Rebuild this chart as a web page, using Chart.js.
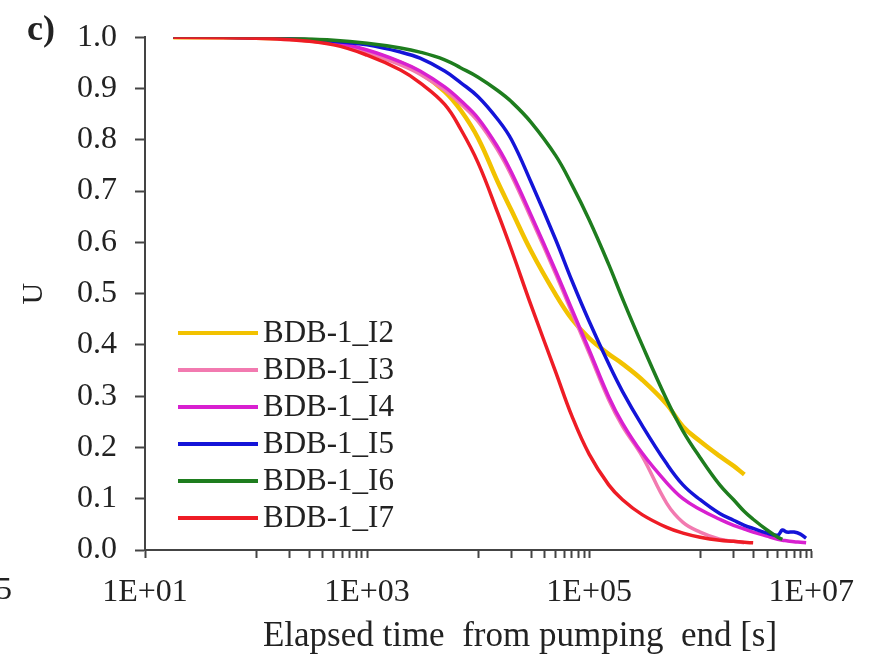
<!DOCTYPE html>
<html>
<head>
<meta charset="utf-8">
<script src="https://cdn.jsdelivr.net/npm/chart.js@4.4.1/dist/chart.umd.min.js"></script>
<style>
  html, body { margin: 0; padding: 0; background: #fff; }
  canvas { display: block; }
</style>
</head>
<body>
<canvas id="chart" width="869" height="668"></canvas>
<script>
// elapsed time since end of pumping [s]
const timeS = [18, 50, 100, 200, 500, 1000, 2000, 3000, 5000, 7000, 1e4, 1.5e4, 2e4, 3e4, 5e4, 7e4,
  1e5, 1.5e5, 2e5, 3e5, 5e5, 7e5, 1e6, 1.5e6, 2e6, 2.5e6, 3e6, 4e6, 5e6, 5.5e6, 6e6, 7e6, 8e6, 9e6];

// normalised drawdown U for each well (null = no data)
const uI2 = [1.0, 1.0, 0.999, 0.997, 0.988, 0.973, 0.95, 0.931, 0.894, 0.857, 0.803, 0.718, 0.662, 0.583, 0.498, 0.45,
  0.413, 0.382, 0.363, 0.332, 0.284, 0.241, 0.212, 0.183, 0.164, 0.147, null, null, null, null, null, null, null, null];
const uI3 = [1.0, 1.0, 0.999, 0.996, 0.987, 0.97, 0.946, 0.928, 0.897, 0.87, 0.836, 0.78, 0.73, 0.647, 0.538, 0.463,
  0.384, 0.293, 0.241, 0.183, 0.091, 0.054, 0.035, 0.021, 0.017, 0.014, null, null, null, null, null, null, null, null];
const uI4 = [1.0, 1.0, 0.999, 0.997, 0.99, 0.975, 0.952, 0.934, 0.903, 0.876, 0.842, 0.786, 0.736, 0.653, 0.544, 0.469,
  0.39, 0.299, 0.247, 0.189, 0.131, 0.1, 0.079, 0.06, 0.048, 0.041, 0.035, 0.027, 0.021, 0.019, 0.018, 0.016, 0.015, 0.014];
const uI5 = [1.0, 1.0, 0.999, 0.997, 0.992, 0.985, 0.971, 0.959, 0.934, 0.911, 0.884, 0.84, 0.8, 0.717, 0.605, 0.525,
  0.446, 0.363, 0.309, 0.243, 0.168, 0.127, 0.098, 0.071, 0.058, 0.048, 0.042, 0.033, 0.029, 0.039, 0.035, 0.035, 0.031, 0.023];
const uI6 = [1.0, 1.0, 0.999, 0.998, 0.994, 0.988, 0.979, 0.971, 0.956, 0.94, 0.922, 0.896, 0.874, 0.834, 0.769, 0.712,
  0.644, 0.557, 0.49, 0.4, 0.293, 0.232, 0.18, 0.127, 0.098, 0.075, 0.06, 0.039, 0.025, 0.021, null, null, null, null];
const uI7 = [1.0, 0.999, 0.998, 0.995, 0.985, 0.965, 0.936, 0.911, 0.869, 0.82, 0.755, 0.658, 0.585, 0.477, 0.347, 0.261,
  0.187, 0.127, 0.098, 0.069, 0.044, 0.033, 0.025, 0.019, 0.017, 0.015, 0.014, null, null, null, null, null, null, null];

const seriesNames = ['BDB-1_I2', 'BDB-1_I3', 'BDB-1_I4', 'BDB-1_I5', 'BDB-1_I6', 'BDB-1_I7'];
const seriesValues = [uI2, uI3, uI4, uI5, uI6, uI7];
const seriesColors = ['#F2C200', '#F27AB0', '#D820D0', '#1414D8', '#1E7D1E', '#EE1C25'];

// x axis: labelled decades and the minor tick marks between them
const xMajorTicks = [10, 1e3, 1e5, 1e7];
const xMinorTicks = [100, 200, 300, 400, 500, 600, 700, 800, 900,
  1e4, 2e4, 3e4, 4e4, 5e4, 6e4, 7e4, 8e4, 9e4,
  1e6, 2e6, 3e6, 4e6, 5e6, 6e6, 7e6, 8e6, 9e6];

const SERIF = '"Liberation Serif", "Times New Roman", serif';
const AXIS_COLOR = '#444';

function toPoints(values) {
  return timeS.map((t, i) => ({ x: t, y: values[i] })).filter(p => p.y !== null);
}

const datasets = seriesNames.map((name, i) => ({
  label: name,
  data: toPoints(seriesValues[i]),
  borderColor: seriesColors[i],
  backgroundColor: seriesColors[i],
  borderWidth: i === 0 ? 4.5 : 3.5,
  pointRadius: 0,
  tension: 0.4,
  fill: false,
  order: name === 'BDB-1_I7' ? 0 : 6 - i
}));

// white background, panel letter, cut-off neighbour label and x title
const textPlugin = {
  id: 'panelText',
  beforeDraw(chart) {
    const ctx = chart.ctx;
    ctx.save();
    ctx.fillStyle = '#fff';
    ctx.fillRect(0, 0, chart.width, chart.height);
    ctx.restore();
  },
  afterDraw(chart) {
    const ctx = chart.ctx;
    ctx.save();
    ctx.fillStyle = '#222';
    ctx.textBaseline = 'middle';
    ctx.font = 'bold 36px ' + SERIF;
    ctx.textAlign = 'left';
    ctx.fillText('c)', 27, 31);
    ctx.font = '32px ' + SERIF;
    ctx.fillText('5', -4, 591);
    ctx.font = '35px ' + SERIF;
    ctx.textAlign = 'center';
    ctx.fillText('Elapsed time  from pumping  end [s]', 520, 637);
    ctx.restore();
  }
};

// legend drawn inside the plot area
const legendPlugin = {
  id: 'insideLegend',
  afterDatasetsDraw(chart) {
    const ctx = chart.ctx;
    ctx.save();
    ctx.font = '31px ' + SERIF;
    ctx.textBaseline = 'middle';
    ctx.textAlign = 'left';
    chart.data.datasets.forEach((ds, i) => {
      const y = 333 + i * 37;
      ctx.strokeStyle = ds.borderColor;
      ctx.lineWidth = 4;
      ctx.beginPath();
      ctx.moveTo(178, y);
      ctx.lineTo(258, y);
      ctx.stroke();
      ctx.fillStyle = '#222';
      ctx.fillText(ds.label, 263, y + 1);
    });
    ctx.restore();
  }
};

new Chart(document.getElementById('chart'), {
  type: 'line',
  data: { datasets },
  options: {
    responsive: false,
    animation: false,
    events: [],
    layout: { padding: { left: 0, top: 32, right: 57, bottom: 0 } },
    plugins: {
      legend: { display: false },
      tooltip: { enabled: false }
    },
    scales: {
      x: {
        type: 'logarithmic',
        min: 10,
        max: 1e7,
        afterBuildTicks: (scale) => {
          scale.ticks = xMajorTicks.concat(xMinorTicks).sort((a, b) => a - b).map(v => ({ value: v }));
        },
        afterFit: (scale) => { scale.height = 118; },
        ticks: {
          autoSkip: false,
          maxRotation: 0,
          padding: 15,
          color: '#222',
          font: { family: SERIF, size: 32 },
          callback: (v) => {
            if (!xMajorTicks.includes(v)) return '';
            return '1E+' + String(Math.round(Math.log10(v))).padStart(2, '0');
          }
        },
        grid: {
          drawOnChartArea: false,
          drawTicks: true,
          tickLength: 8,
          tickColor: AXIS_COLOR,
          tickWidth: 2
        },
        border: { display: true, color: AXIS_COLOR, width: 2 }
      },
      y: {
        min: 0,
        max: 1,
        afterFit: (scale) => { scale.width = 145; },
        ticks: {
          stepSize: 0.1,
          padding: 18,
          color: '#222',
          font: { family: SERIF, size: 32 },
          callback: (v) => v.toFixed(1)
        },
        grid: {
          drawOnChartArea: false,
          drawTicks: true,
          tickLength: 10,
          tickColor: AXIS_COLOR,
          tickWidth: 2
        },
        border: { display: true, color: AXIS_COLOR, width: 2 },
        title: {
          display: true,
          text: 'U',
          color: '#222',
          font: { family: SERIF, size: 30 },
          padding: { top: 16, bottom: 0 }
        }
      }
    }
  },
  plugins: [textPlugin, legendPlugin]
});
</script>
</body>
</html>
